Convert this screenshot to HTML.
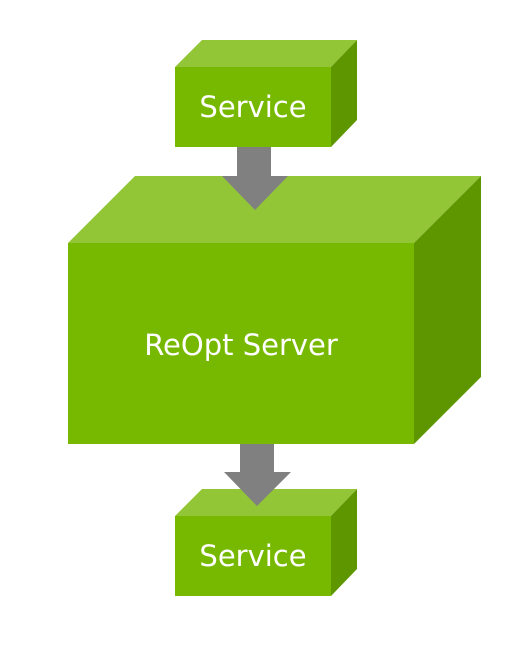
<!DOCTYPE html>
<html><head><style>body{margin:0;background:#fff}</style></head><body>
<svg width="508" height="645" xmlns="http://www.w3.org/2000/svg" font-family="'DejaVu Sans','Liberation Sans',sans-serif">
<rect width="508" height="645" fill="#fff"/>
<!-- top service -->
<polygon points="175,67 202,40 357,40 331,67" fill="#92c637"/>
<polygon points="331,67 357,40 357,120 331,147" fill="#5e9600"/>
<rect x="175" y="67" width="156" height="80" fill="#76b900"/>
<text x="253" y="117" text-anchor="middle" font-size="29" fill="#fff">Service</text>
<!-- big box -->
<polygon points="68,243 135,176 481,176 414,243" fill="#92c637"/>
<polygon points="414,243 481,176 481,377 414,444" fill="#5e9600"/>
<rect x="68" y="243" width="346" height="201" fill="#76b900"/>
<text x="241" y="355" text-anchor="middle" font-size="29" fill="#fff">ReOpt Server</text>
<!-- top arrow -->
<polygon points="237,147 271,147 271,176 288,176 255,210 222,176 237,176" fill="#808080"/>
<!-- bottom service -->
<polygon points="175,516 202,489 357,489 331,516" fill="#92c637"/>
<polygon points="331,516 357,489 357,569 331,596" fill="#5e9600"/>
<rect x="175" y="516" width="156" height="80" fill="#76b900"/>
<text x="253" y="566" text-anchor="middle" font-size="29" fill="#fff">Service</text>
<!-- bottom arrow -->
<polygon points="240,444 274,444 274,472 291,472 257,506 224,472 240,472" fill="#808080"/>
</svg>
</body></html>
